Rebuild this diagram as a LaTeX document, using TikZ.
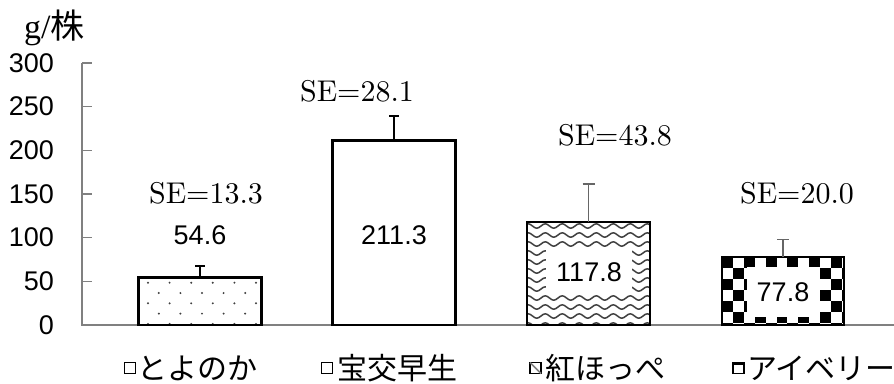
\documentclass[tikz,border=0pt]{standalone}
\usepackage{fontspec}
\newfontfamily\jpfont{Noto Sans CJK JP}
\newfontfamily\numfont{Liberation Sans}
\newfontfamily\unitfont{Liberation Serif}
\newfontfamily\sefont{lmroman10-regular}[Extension=.otf]
\begin{document}
\begin{tikzpicture}[x=1pt, y=-1pt,
    every node/.style={inner sep=0pt, outer sep=0pt},
    bar/.style={draw, line width=2.4pt, fill=white, minimum width=123pt, anchor=south},
    axis/.style={draw=gray, line width=1.2pt},
    err/.style={line width=2.2pt},
    errthin/.style={draw=gray!80!black, line width=1.2pt},
    val/.style={font=\numfont\fontsize{27}{30}\selectfont},
    se/.style={font=\sefont\fontsize{30}{34}\selectfont},
    leg/.style={font=\jpfont\fontsize{30}{34}\selectfont, anchor=west},
    key/.style={draw, line width=1.4pt, minimum size=11pt}]
        \useasboundingbox (0,0) rectangle (894,383);

        % Axis
        \node[anchor=base west] (unit) at (24,38) {\unitfont\fontsize{34}{38}\selectfont g/\jpfont 株};
        \draw[axis] (82,63) -- (82,325) -- (894,325);
        \foreach \v in {0,...,6} {
            \draw[axis] (82,{325-43.67*\v}) -- ++(10,0);
            \pgfmathtruncatemacro\lab{50*\v}
            \node[val, anchor=east] (t\v) at (54,{325-43.67*\v}) {\lab};
        }

        % Bars
        \node[bar, minimum height=47.7pt] (b1) at (200,325) {};
        \node[bar, minimum height=184.5pt] (b2) at (394,325) {};
        \node[bar, minimum height=102.9pt] (b3) at (588.5,325) {};
        \node[bar, minimum width=122pt, minimum height=67.9pt] (b4) at (783,325) {};

        % Patterns
        \begin{scope}
            \clip ([shift={(1.2,-1.2)}]b1.south west) rectangle ([shift={(-1.2,1.2)}]b1.north east);
            \foreach \r in {0,...,4} \foreach \i in {0,...,5}
                \fill[gray!50!black] ({148+21.6*\i+10.8*mod(\r,2)},{282.7+10.3*\r}) circle (1.1pt);
        \end{scope}
        \begin{scope}
            \clip ([shift={(1.2,-1.2)}]b3.south west) rectangle ([shift={(-1.2,1.2)}]b3.north east);
            \foreach \y in {226,235,...,325}
                \draw[black!75, line width=1.5pt] (524,\y) \foreach \k in {0,...,7} {
                    sin ++(4.25,-2.2) cos ++(4.25,2.2) sin ++(4.25,2.2) cos ++(4.25,-2.2)};
        \end{scope}
        \begin{scope}
            \clip ([shift={(1.2,-1.2)}]b4.south west) rectangle ([shift={(-1.2,1.2)}]b4.north east);
            \foreach \r in {0,...,6} \foreach \i in {0,2,...,12}
                \fill ({722+(\i+mod(\r,2))*10.9},{257.1+\r*10.9}) rectangle ++(10.9,10.9);
        \end{scope}

        % Error bars
        \coordinate (e1) at (200,265.7);
        \coordinate (e2) at (394,116);
        \coordinate (e3) at (588.5,184);
        \coordinate (e4) at (783,239.6);
        \draw[err] (b1.north) -- (e1) +(-5,0) -- +(5,0);
        \draw[err] (b2.north) -- (e2) +(-5,0) -- +(5,0);
        \draw[errthin] (b3.north) -- (e3) +(-6,0) -- +(6,0);
        \draw[errthin] (b4.north) -- (e4) +(-6,0) -- +(6,0);

        % Values
        \node[val] (v1) at (200,235) {54.6};
        \node[val] (v2) at (394,235) {211.3};
        \node[val, fill=white, minimum width=86pt, minimum height=46pt] (v3) at (589,272) {117.8};
        \node[val, fill=white, minimum width=73pt, minimum height=50pt] (v4) at (783,292) {77.8};

        \node[se] (s1) at (206,193) {SE=13.3};
        \node[se] (s2) at (357,91) {SE=28.1};
        \node[se] (s3) at (615,135) {SE=43.8};
        \node[se] (s4) at (797,193) {SE=20.0};

        % Legend
        \node[key] (k1) at (130,368) {};
        \node[leg] (l1) at (137,368) {とよのか};
        \node[key] (k2) at (327,368) {};
        \node[leg] (l2) at (337,368) {宝交早生};
        \node[key] (k3) at (535.5,368) {};
        \draw[gray, line width=1.5pt] (k3.north west) -- (k3.south east);
        \node[leg] (l3) at (545,368) {紅ほっぺ};
        \node[key] (k4) at (738.5,368) {};
        \fill (k4.north west) rectangle ([yshift=-2.5pt]k4.north east);
        \node[leg] (l4) at (747,368) {アイベリー};
\end{tikzpicture}
\end{document}
